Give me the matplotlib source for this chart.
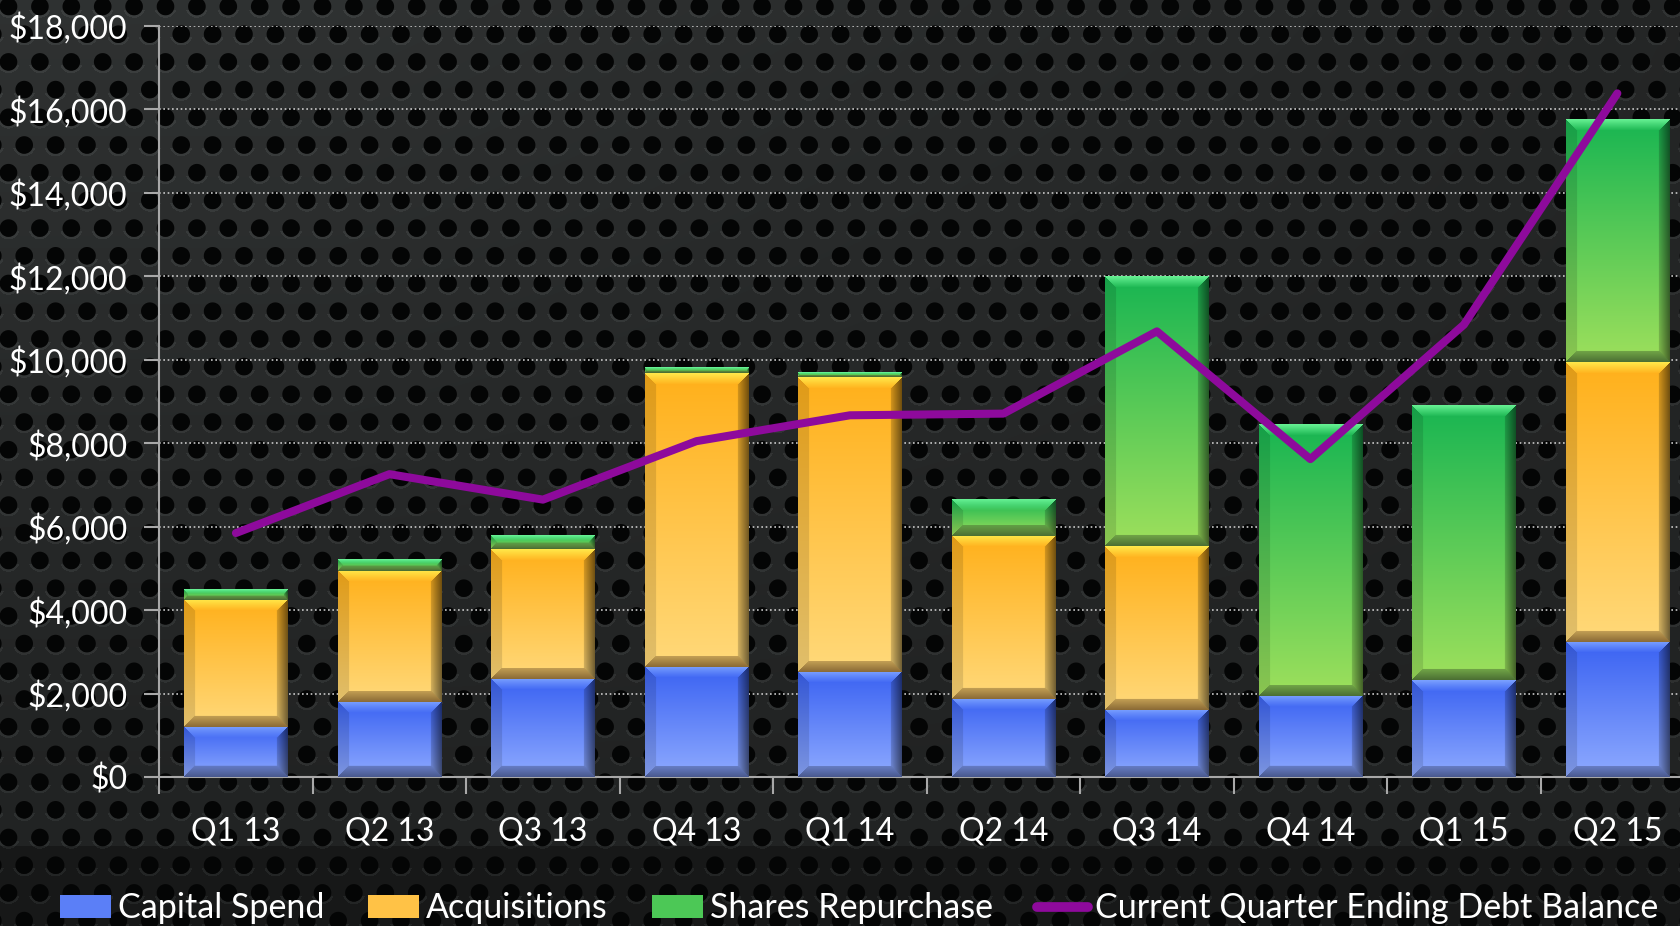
import numpy as np
import matplotlib
matplotlib.use("Agg")
import matplotlib.pyplot as plt
from matplotlib.patches import Patch
from matplotlib.lines import Line2D
from matplotlib.ticker import FuncFormatter, FixedLocator

plt.rcParams['font.family'] = ['Lato', 'DejaVu Sans']

quarters = ["Q1 13", "Q2 13", "Q3 13", "Q4 13", "Q1 14",
            "Q2 14", "Q3 14", "Q4 14", "Q1 15", "Q2 15"]
capital_spend = [1200, 1800, 2350, 2650, 2530, 1870, 1620, 1950, 2320, 3250]
acquisitions = [3050, 3150, 3110, 7030, 7060, 3910, 3910, 0, 0, 6690]
shares_repurchase = [240, 270, 320, 120, 110, 880, 6450, 6510, 6570, 5800]
debt_balance = [5850, 7260, 6650, 8050, 8670, 8710, 10680, 7620, 10840, 16380]

W, H, DPI = 1681, 926, 100
fig = plt.figure(figsize=(W / DPI, H / DPI), dpi=DPI)

# perforated metal background
bg = fig.add_axes([0, 0, 1, 1], zorder=-1)
yy, xx = np.mgrid[0:H, 0:W].astype(float)
dy, dx, r = 27.7, 31.4, 8.8
row = np.round((yy - 6) / dy)
cy = row * dy + 6
off = (row % 2) * dx / 2
cx = np.round((xx - off - 8) / dx) * dx + off + 8
d = np.hypot(xx - cx, yy - cy)
base = 0.135 + 0.055 * np.clip(1 - yy / 800, 0, 1) * np.clip(1.2 - xx / W, 0, 1)
base = np.where(yy > 845, base * 0.7, base)
rim = (d > r) & (d < r + 2.5) & (yy > cy + 3)
base = np.where(rim, base + 0.05, base)
a = np.clip(d - r + 0.5, 0, 1)
val = 0.02 * (1 - a) + base * a
tex = np.dstack([val * 0.97, val * 1.02, val * 1.02])
bg.imshow(np.clip(tex, 0, 1), aspect='auto', extent=(0, 1, 0, 1))
bg.axis('off')

ax = fig.add_axes([0.0947, 0.1606, 0.9131, 0.8116])
ax.set_facecolor('none')
n = len(quarters)
ax.set_xlim(0, n)
ax.set_ylim(0, 18000)
px_x = 0.9131 * W / n
px_y = 0.8116 * H / 18000

def hexrgb(h):
    h = h.lstrip('#')
    return np.array([int(h[i:i + 2], 16) / 255 for i in (0, 2, 4)])

def bevel(w, h, top, bot, hi, lo):
    w = max(int(round(w)), 3)
    h = max(int(round(h)), 3)
    yy, xx = np.mgrid[0:h, 0:w].astype(float)
    t = (yy / (h - 1))[..., None]
    face = top * (1 - t) + bot * t
    img = face.copy()
    b = min(11.0, h / 2.5, w / 4)
    dist = np.stack([yy, h - 1 - yy, xx, w - 1 - xx])
    m = dist.min(axis=0)
    side = dist.argmin(axis=0)
    inb = m < b
    k = (m / b)[..., None]
    top_b = hi * (1 - k) + face * k
    img = np.where((inb & (side == 0))[..., None], top_b, img)
    img = np.where((inb & (side == 1))[..., None], lo * (1 - k * 0.5) + face * k * 0.5, img)
    img = np.where((inb & (side == 2))[..., None], face * 0.88, img)
    img = np.where((inb & (side == 3))[..., None], face * (0.45 + 0.4 * k), img)
    return np.clip(img, 0, 1)

styles = {
    'Capital Spend': ('#3a62f2', '#8eaaff', '#7aa0ff', '#4a5a90', '#5b7ff7'),
    'Acquisitions': ('#ffb01a', '#ffd97a', '#ffe84a', '#8c6c36', '#ffc246'),
    'Shares Repurchase': ('#18b552', '#9ee05c', '#66f092', '#4c7034', '#4cc856'),
}

x = np.arange(n) + 0.5
bottom = np.zeros(n)
for name, vals in [('Capital Spend', capital_spend),
                   ('Acquisitions', acquisitions),
                   ('Shares Repurchase', shares_repurchase)]:
    top, bot, hi, lo, mid = styles[name]
    bars = ax.bar(x, vals, width=0.674, bottom=bottom, color=mid, zorder=2)
    for rect in bars:
        hgt = rect.get_height()
        if hgt <= 0:
            continue
        x0, y0, wid = rect.get_x(), rect.get_y(), rect.get_width()
        img = bevel(wid * px_x, hgt * px_y, hexrgb(top), hexrgb(bot), hexrgb(hi), hexrgb(lo))
        ax.imshow(img, extent=(x0, x0 + wid, y0, y0 + hgt), aspect='auto',
                  zorder=3, interpolation='bilinear')
    bottom += np.array(vals)

ax.plot(x, debt_balance, color='#8e0a9c', lw=5.8, solid_capstyle='round',
        solid_joinstyle='round', zorder=5)

ax.set_xlim(0, n)
ax.set_ylim(0, 18000)
ax.set_aspect('auto')

ax.set_axisbelow(True)
ax.yaxis.grid(True, linestyle=(0, (1, 1.6)), color='#c8c8c8', linewidth=1.2, zorder=0.5)
ax.set_yticks(np.arange(0, 18001, 2000))
ax.yaxis.set_major_formatter(FuncFormatter(lambda v, p: f"${v:,.0f}"))
ax.set_xticks(x)
ax.set_xticklabels(quarters)
ax.xaxis.set_minor_locator(FixedLocator(np.arange(0, n + 1)))
ax.tick_params(axis='x', which='major', length=0, pad=28, labelsize=23, labelcolor='white')
ax.tick_params(axis='x', which='minor', length=12, width=1.5, color='#a8a8a8', direction='out')
ax.tick_params(axis='y', length=11, width=1.5, color='#a8a8a8', pad=12,
               labelsize=23, labelcolor='white')
for s in ['top', 'right']:
    ax.spines[s].set_visible(False)
for s in ['left', 'bottom']:
    ax.spines[s].set_color('#a8a8a8')
    ax.spines[s].set_linewidth(1.5)

handles = [Patch(facecolor=styles['Capital Spend'][4], edgecolor='none'),
           Patch(facecolor=styles['Acquisitions'][4], edgecolor='none'),
           Patch(facecolor=styles['Shares Repurchase'][4], edgecolor='none'),
           Line2D([0], [0], color='#8e0a9c', lw=7, solid_capstyle='round')]
labels = ['Capital Spend', 'Acquisitions', 'Shares Repurchase',
          'Current Quarter Ending Debt Balance']
leg = fig.legend(handles, labels, loc='center', bbox_to_anchor=(0.511, 0.019), ncol=4,
                 frameon=False, fontsize=24.5, handlelength=1.5, handleheight=0.65,
                 handletextpad=0.2, columnspacing=1.3, borderaxespad=0)
for t in leg.get_texts():
    t.set_color('white')

fig.savefig('out.png', dpi=DPI)
